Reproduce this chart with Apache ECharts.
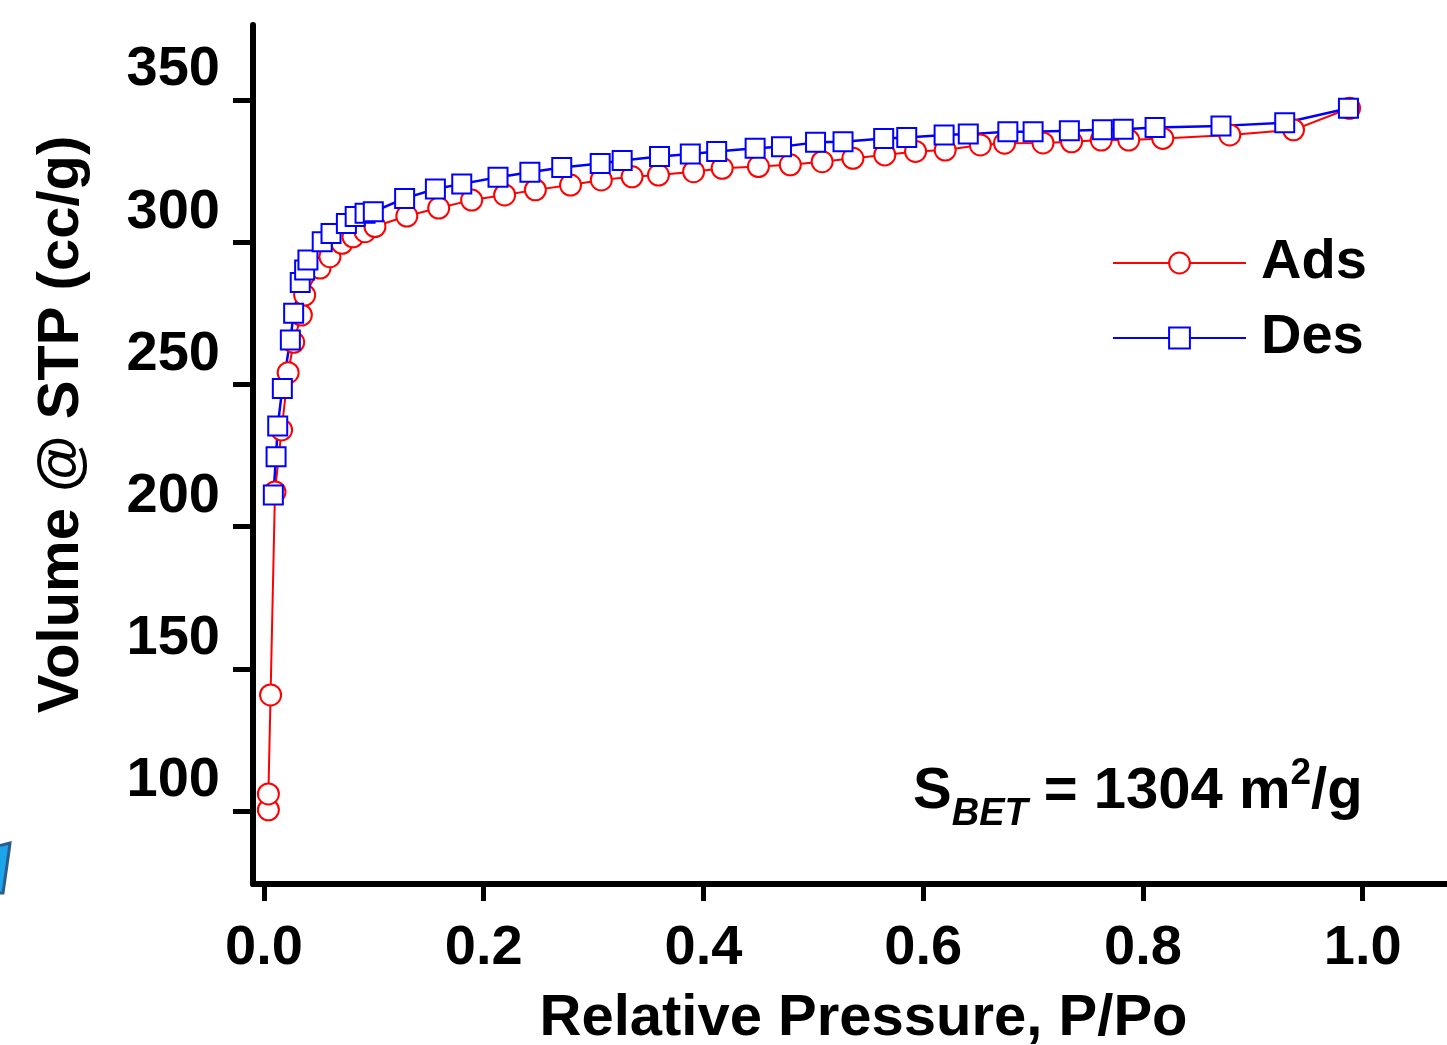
<!DOCTYPE html>
<html>
<head>
<meta charset="utf-8">
<script src="https://cdn.jsdelivr.net/npm/echarts@6/dist/echarts.min.js"></script>
<style>
  html, body { margin: 0; padding: 0; background: #fff; }
  #main { width: 1447px; height: 1045px; }
</style>
</head>
<body>
<div id="main"></div>
<script>
// 吸附支 (Ads)
const adsP = [0.004, 0.004, 0.006, 0.010, 0.016, 0.022, 0.027, 0.034, 0.037, 0.051, 0.060, 0.071, 0.081, 0.092, 0.101,
    0.130, 0.159, 0.189, 0.219, 0.247, 0.279, 0.307, 0.335, 0.359, 0.391, 0.417, 0.450, 0.479, 0.508, 0.536,
    0.565, 0.593, 0.620, 0.652, 0.674, 0.709, 0.735, 0.762, 0.787, 0.818, 0.879, 0.937, 0.988];
const adsV = [100.4, 106.0, 140.8, 212.2, 234.0, 254.1, 264.8, 274.4, 281.4, 290.9, 294.9, 299.6, 301.9, 303.7, 305.5,
    309.2, 312.0, 314.8, 316.6, 318.4, 320.1, 321.9, 323.0, 323.6, 324.8, 326.0, 326.6, 327.2, 328.3, 329.5,
    330.7, 331.9, 332.4, 334.2, 334.8, 334.9, 335.3, 335.9, 335.9, 336.5, 337.7, 339.5, 347.1];

// 脱附支 (Des)
const desP = [0.0085, 0.011, 0.0125, 0.0167, 0.024, 0.027, 0.033, 0.037, 0.040, 0.053, 0.061, 0.075, 0.083, 0.092, 0.0995,
    0.128, 0.156, 0.180, 0.213, 0.242, 0.271, 0.306, 0.326, 0.360, 0.388, 0.412, 0.447, 0.471, 0.502, 0.527,
    0.564, 0.585, 0.619, 0.641, 0.677, 0.700, 0.733, 0.763, 0.782, 0.811, 0.871, 0.929, 0.987];
const desV = [211.1, 224.6, 235.4, 248.6, 265.6, 275.0, 285.8, 290.2, 293.7, 300.2, 303.1, 306.6, 309.0, 310.2, 310.7,
    315.4, 318.7, 320.5, 322.8, 324.6, 326.3, 327.7, 328.7, 330.1, 331.0, 331.9, 333.0, 333.6, 335.1, 335.3,
    336.5, 336.8, 337.7, 338.0, 338.8, 338.8, 339.2, 339.5, 339.7, 340.3, 340.9, 342.0, 347.1];

const xTicks = [0, 0.2, 0.4, 0.6, 0.8, 1.0];
const yTicks = [100, 150, 200, 250, 300, 350];

const FONT = '"Liberation Sans", Arial, sans-serif';

function pairs(xs, ys) {
    let out = [];
    for (let i = 0; i < xs.length; i++) {
        out.push([xs[i], ys[i]]);
    }
    return out;
}

const chart = echarts.init(document.getElementById('main'), null, { renderer: 'canvas' });

var option = {
    backgroundColor: '#ffffff',
    animation: false,
    grid: {
        left: 253,
        top: 25,
        right: 0,
        bottom: 161,
        containLabel: false,
        outerBoundsMode: 'none'
    },
    legend: {
        orient: 'vertical',
        left: 1112,
        top: 235,
        padding: 0,
        itemWidth: 133,
        itemHeight: 26,
        itemGap: 19,
        textStyle: {
            fontFamily: FONT,
            fontSize: 56,
            fontWeight: 'bold',
            color: '#000',
            lineHeight: 56,
            padding: [0, 0, 0, 10]
        },
        data: ['Ads', 'Des']
    },
    xAxis: {
        type: 'value',
        min: -0.010,
        max: 1.0767,
        name: 'Relative Pressure, P/Po',
        nameLocation: 'middle',
        nameGap: 106,
        nameTextStyle: {
            fontFamily: FONT,
            fontSize: 58,
            fontWeight: 'bold',
            color: '#000',
            padding: [0, 0, 0, 27]
        },
        axisLine: { onZero: false, lineStyle: { color: '#000', width: 6 } },
        axisTick: { customValues: xTicks, length: 17, lineStyle: { color: '#000', width: 5 } },
        axisLabel: {
            customValues: xTicks,
            margin: 37,
            fontFamily: FONT,
            fontSize: 56,
            fontWeight: 'bold',
            color: '#000',
            formatter: function (v) { return v.toFixed(1); }
        },
        splitLine: { show: false }
    },
    yAxis: {
        type: 'value',
        min: 74.33,
        max: 376.37,
        name: 'Volume @ STP (cc/g)',
        nameLocation: 'middle',
        nameGap: 162,
        nameTextStyle: {
            fontFamily: FONT,
            fontSize: 58,
            fontWeight: 'bold',
            color: '#000',
            padding: [0, 0, 0, 60]
        },
        axisLine: { onZero: false, lineStyle: { color: '#000', width: 6 } },
        axisTick: { customValues: yTicks, length: 20, lineStyle: { color: '#000', width: 5 } },
        axisLabel: {
            customValues: yTicks,
            margin: 33,
            fontFamily: FONT,
            fontSize: 56,
            fontWeight: 'bold',
            color: '#000',
            verticalAlign: 'bottom',
            lineHeight: 60
        },
        splitLine: { show: false }
    },
    graphic: [
        {
            type: 'text',
            left: 913,
            top: 755,
            style: {
                text: '{s|S}{sub|BET}{n| = 1304 m}{sup|2}{n|/g}',
                rich: {
                    s: { fontFamily: FONT, fontSize: 58, fontWeight: 'bold', fill: '#000' },
                    n: { fontFamily: FONT, fontSize: 58, fontWeight: 'bold', fill: '#000' },
                    sub: { fontFamily: FONT, fontSize: 38, fontWeight: 'bold', fontStyle: 'italic', fill: '#000', padding: [46, 0, 0, 0] },
                    sup: { fontFamily: FONT, fontSize: 37, fontWeight: 'bold', fill: '#000', padding: [0, 0, 36, 0] }
                }
            }
        },
        {
            // 左下角残留的蓝色图标碎片
            type: 'polygon',
            shape: { points: [[-2, 846], [10, 843], [9, 851], [3, 893], [-2, 893]] },
            style: { fill: '#1ba6ea', stroke: '#2d5b8e', lineWidth: 3 }
        }
    ],
    series: [
        {
            name: 'Ads',
            type: 'line',
            data: pairs(adsP, adsV),
            symbol: 'circle',
            symbolSize: 21,
            clip: false,
            lineStyle: { color: '#ff0000', width: 2 },
            itemStyle: { color: '#ffffff', borderColor: '#ff0000', borderWidth: 2 }
        },
        {
            name: 'Des',
            type: 'line',
            data: pairs(desP, desV),
            symbol: 'rect',
            symbolSize: 19,
            clip: false,
            lineStyle: { color: '#0000ff', width: 2.5 },
            itemStyle: { color: '#ffffff', borderColor: '#0000ff', borderWidth: 2 }
        }
    ]
};

chart.setOption(option);
</script>
</body>
</html>
